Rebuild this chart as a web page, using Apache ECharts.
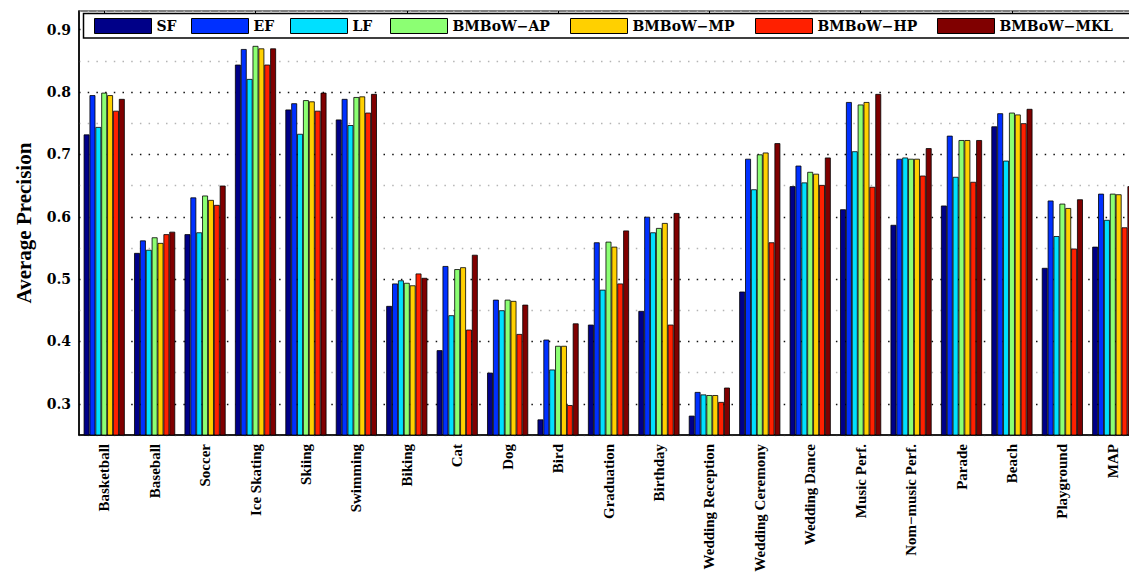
<!DOCTYPE html>
<html>
<head>
<meta charset="utf-8">
<script src="https://cdn.jsdelivr.net/npm/echarts@6/dist/echarts.min.js"></script>
<style>
  html, body { margin: 0; padding: 0; background: #fff; overflow: hidden; }
  #chart { width: 1129px; height: 572px; overflow: hidden; }
</style>
</head>
<body>
<div id="chart"></div>
<script>
// Event categories (last one is the mean over all events)
const categories = [
  'Basketball', 'Baseball', 'Soccer', 'Ice Skating', 'Skiing', 'Swimming', 'Biking',
  'Cat', 'Dog', 'Bird', 'Graduation', 'Birthday', 'Wedding Reception', 'Wedding Ceremony',
  'Wedding Dance', 'Music Perf.', 'Nom\u2212music Perf.', 'Parade', 'Beach', 'Playground', 'MAP'
];

const seriesNames = ['SF', 'EF', 'LF', 'BMBoW\u2212AP', 'BMBoW\u2212MP', 'BMBoW\u2212HP', 'BMBoW\u2212MKL'];

// Average precision per method
const sf  = [0.732, 0.542, 0.572, 0.844, 0.772, 0.756, 0.457, 0.386, 0.350, 0.275, 0.427, 0.449, 0.281, 0.480, 0.649, 0.612, 0.587, 0.618, 0.745, 0.518, 0.552];
const ef  = [0.795, 0.562, 0.631, 0.869, 0.782, 0.789, 0.493, 0.521, 0.467, 0.403, 0.559, 0.600, 0.319, 0.693, 0.682, 0.784, 0.693, 0.730, 0.766, 0.626, 0.637];
const lf  = [0.744, 0.547, 0.575, 0.821, 0.733, 0.747, 0.498, 0.442, 0.450, 0.355, 0.483, 0.575, 0.315, 0.644, 0.655, 0.705, 0.695, 0.664, 0.690, 0.569, 0.595];
const ap  = [0.799, 0.567, 0.634, 0.874, 0.787, 0.792, 0.494, 0.516, 0.467, 0.393, 0.560, 0.582, 0.314, 0.700, 0.672, 0.780, 0.693, 0.723, 0.767, 0.621, 0.637];
const mp  = [0.795, 0.558, 0.627, 0.870, 0.785, 0.793, 0.490, 0.519, 0.465, 0.393, 0.552, 0.590, 0.314, 0.703, 0.669, 0.784, 0.693, 0.723, 0.764, 0.614, 0.636];
const hp  = [0.770, 0.572, 0.619, 0.844, 0.770, 0.767, 0.509, 0.419, 0.412, 0.298, 0.493, 0.427, 0.303, 0.559, 0.651, 0.648, 0.666, 0.656, 0.750, 0.549, 0.583];
const mkl = [0.789, 0.576, 0.650, 0.870, 0.799, 0.797, 0.502, 0.539, 0.459, 0.429, 0.578, 0.606, 0.326, 0.718, 0.695, 0.797, 0.710, 0.723, 0.773, 0.628, 0.649];

const seriesData = [sf, ef, lf, ap, mp, hp, mkl];
const colors = ['#000088', '#0030ff', '#00e0ff', '#8cff73', '#ffd000', '#ff2000', '#800000'];

// horizontal positions of the legend entries
const legendLeft = [94, 191, 290, 390, 570, 755, 937];

const serifBold = { fontFamily: 'Liberation Serif', fontWeight: 'bold', color: '#000' };
const wideBold = { fontFamily: 'DejaVu Serif', fontWeight: 'bold', color: '#000' };

const chart = echarts.init(document.getElementById('chart'), null, { renderer: 'svg' });

const option = {
  backgroundColor: '#fff',
  animation: false,
  color: colors,
  // plot area runs a little past the right edge of the page
  grid: {
    left: 79, top: 11, width: 1059, height: 424,
    outerBoundsMode: 'none',
    containLabel: false,
    show: true, borderColor: '#000', borderWidth: 1.2, backgroundColor: 'transparent'
  },
  graphic: [{
    type: 'rect',
    z: 3,
    shape: { x: 83.5, y: 13.5, width: 1060, height: 24.5 },
    style: { fill: '#fff', stroke: '#000', lineWidth: 1.5 }
  }],
  legend: seriesNames.map((n, i) => ({
    data: [n],
    left: legendLeft[i],
    top: 18,
    padding: 0,
    itemWidth: 57,
    itemHeight: 15,
    icon: 'rect',
    selectedMode: false,
    z: 5,
    textStyle: Object.assign({ fontSize: 14 }, wideBold),
    itemStyle: { borderColor: '#000', borderWidth: 1 }
  })),
  xAxis: [{
    type: 'category',
    data: categories,
    position: 'bottom',
    axisLine: { lineStyle: { color: '#000', width: 1.5 } },
    axisTick: { show: false },
    axisLabel: Object.assign({ rotate: 90, interval: 0, margin: 9, fontSize: 15 }, serifBold)
  }, {
    type: 'category',
    data: categories,
    position: 'top',
    axisLine: { show: false },
    axisTick: { show: true, inside: true, length: 4, alignWithLabel: true, lineStyle: { color: '#000' } },
    axisLabel: { show: false }
  }],
  yAxis: {
    type: 'value',
    min: 0.25,
    max: 0.93,
    interval: 0.05,
    name: 'Average Precision',
    nameLocation: 'middle',
    nameGap: 45,
    nameTextStyle: Object.assign({ fontSize: 21 }, serifBold),
    axisLine: { show: true, lineStyle: { color: '#000', width: 1.5 } },
    axisTick: { show: false },
    axisLabel: Object.assign({
      fontSize: 14,
      margin: 8,
      formatter: v => {
        const k = Math.round(v * 100);
        return (k % 10 === 0 && k >= 30 && k <= 90) ? (k / 100).toFixed(1) : '';
      }
    }, wideBold),
    splitLine: {
      show: true,
      lineStyle: { color: ['#b4b4b4', '#111'], width: 1.3, type: [1.5, 7.2] }
    }
  },
  series: seriesNames.map((n, i) => ({
    name: n,
    type: 'bar',
    data: seriesData[i],
    barGap: '0%',
    barCategoryGap: '18.5%',
    itemStyle: { color: colors[i], borderColor: '#000', borderWidth: 0.8 }
  }))
};

chart.setOption(option);
</script>
</body>
</html>
